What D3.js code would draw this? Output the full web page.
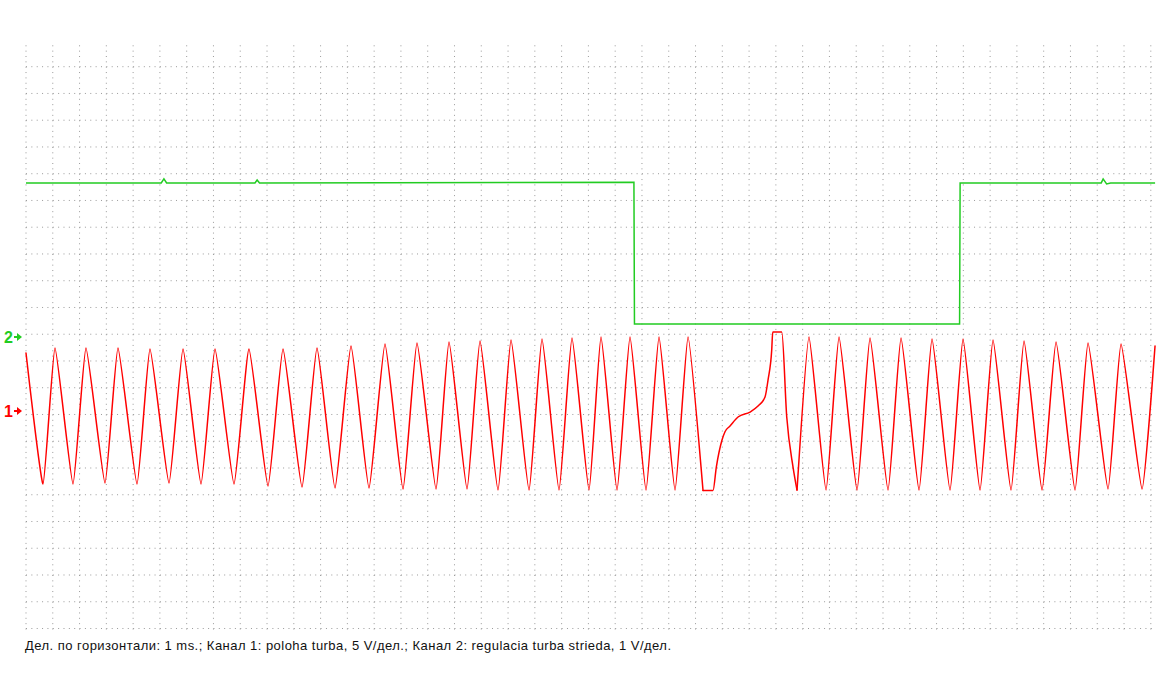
<!DOCTYPE html>
<html>
<head>
<meta charset="utf-8">
<script src="https://cdn.jsdelivr.net/npm/d3@7"></script>
<style>
  html, body { margin: 0; padding: 0; background: #fff; }
  svg { display: block; }
</style>
</head>
<body>
<svg id="chart" width="1156" height="700"></svg>
<script>
// ---- Data (time in ms, 1 ms/div; channel 1 in volts 5 V/div; channel 2 in volts 1 V/div)
const timeDivisions = d3.range(0, 43);          // vertical grid lines, ms
const voltRows = d3.range(0, 22);               // horizontal grid rows (division index)

// Channel 1: "poloha turba" (red), [ms, V]
const ch1Time = [0, 0.635, 1.083, 1.755, 2.240, 2.950, 3.435, 4.145, 4.630, 5.340, 5.863, 6.535, 7.058, 7.767, 8.327,
  9.037, 9.597, 10.306, 10.866, 11.538, 12.136, 12.808, 13.405, 14.078, 14.600, 15.310, 15.795, 16.468, 16.953,
  17.625, 18.111, 18.783, 19.268, 19.903, 20.388, 21.023, 21.471, 22.069, 22.554, 23.152, 23.637, 24.235, 24.720,
  25.280, 25.653, 25.777, 25.989, 26.101, 26.288, 26.587, 27.035, 27.334, 27.595, 27.707, 27.845, 27.883, 28.219,
  28.406, 28.641, 28.790,
  29.238, 29.873, 30.359, 31.031, 31.516, 32.188, 32.674, 33.346, 33.831, 34.503, 34.989, 35.624, 36.109, 36.781,
  37.267, 37.939, 38.462, 39.171, 39.657, 40.403, 40.889, 41.673, 42.158];
const ch1Volt = [10.84, -13.64, 11.78, -13.64, 11.78, -13.46, 11.78, -13.64, 11.59, -13.46, 11.59, -13.64, 11.59, -13.64, 11.59,
  -14.02, 11.59, -14.21, 11.78, -14.39, 12.15, -14.39, 12.52, -14.58, 12.71, -14.58, 12.90, -14.58, 13.08,
  -14.77, 13.27, -14.77, 13.46, -14.77, 13.64, -14.77, 13.83, -14.77, 13.83, -14.77, 13.83, -14.77, 13.83,
  -14.86, -14.86, -10.47, -5.42, -3.87, -2.80, -1.12, -0.19, 0.93, 2.62, 5.79, 11.40, 14.77, 14.77,
  -1.12, -10.47, -14.77,
  13.83, -14.77, 13.83, -14.77, 13.64, -14.77, 13.64, -14.77, 13.46, -14.77, 13.46, -14.77, 13.27, -14.77,
  13.08, -14.77, 12.90, -14.77, 12.71, -14.58, 12.52, -14.58, 12.15];
// the irregular (clipped) stretch of channel 1, drawn with a non-overshooting curve
const ch1IrregularStart = 25.280, ch1IrregularEnd = 28.790;

// Channel 2: "regulacia turba strieda" (green), [ms, V]
const ch2Time = [0, 5.05, 5.15, 5.25, 8.55, 8.63, 8.72, 22.70, 22.72, 34.86, 34.88, 40.15, 40.22, 40.35, 40.50, 42.16];
const ch2Volt = [5.76, 5.76, 5.91, 5.76, 5.76, 5.87, 5.76, 5.78, 0.49, 0.49, 5.76, 5.76, 5.91, 5.72, 5.76, 5.76];

const caption = "Дел. по горизонтали: 1 ms.; Канал 1: poloha turba, 5 V/дел.; Канал 2: regulacia turba strieda, 1 V/дел.";

// ---- Scales
const svg = d3.select("#chart");
svg.append("rect").attr("width", 1156).attr("height", 700).attr("fill", "#fff");

const x = d3.scaleLinear().domain([0, 42]).range([26, 1150.8]);
const row = d3.scaleLinear().domain([0, 21]).range([66.7, 628.5]);
const divPx = row(1) - row(0);
const plotTop = row(0) - 4 * divPx / 5;
const plotRight = x(42.16);

const y1 = d3.scaleLinear().domain([0, 5]).range([411, 411 - divPx]);   // channel 1, 5 V/div
const y2 = d3.scaleLinear().domain([0, 1]).range([337, 337 - divPx]);   // channel 2, 1 V/div

// ---- Grid
const grid = svg.append("g").attr("stroke", "#9a9a9a").attr("stroke-width", 1);
grid.selectAll("line.v").data(timeDivisions).join("line")
  .attr("x1", d => x(d)).attr("x2", d => x(d))
  .attr("y1", plotTop).attr("y2", row(21) + 1)
  .attr("stroke-dasharray", `1 ${divPx / 5 - 1}`);
grid.selectAll("line.h").data(voltRows).join("line")
  .attr("y1", d => row(d)).attr("y2", d => row(d))
  .attr("x1", x(0)).attr("x2", plotRight)
  .attr("stroke-dasharray", `1 ${(x(1) - x(0)) / 5 - 1}`);

// ---- Traces
const ch1 = ch1Time.map((t, i) => [t, ch1Volt[i]]);
const ch2 = ch2Time.map((t, i) => [t, ch2Volt[i]]);

svg.append("path").datum(ch2)
  .attr("fill", "none").attr("stroke", "#22cc22").attr("stroke-width", 1.5)
  .attr("d", d3.line().x(d => x(d[0])).y(d => y2(d[1])));

const segA = ch1.filter(d => d[0] <= ch1IrregularStart);
const segB = ch1.filter(d => d[0] >= ch1IrregularStart && d[0] <= ch1IrregularEnd);
const segC = ch1.filter(d => d[0] >= ch1IrregularEnd);
const smooth = d3.line().curve(d3.curveCardinal.tension(0.55)).x(d => x(d[0])).y(d => y1(d[1]));
const mono = d3.line().curve(d3.curveMonotoneX).x(d => x(d[0])).y(d => y1(d[1]));

const red = svg.append("g").attr("fill", "none").attr("stroke", "#ff0000")
  .attr("stroke-width", 1.5).attr("stroke-linejoin", "round").attr("stroke-linecap", "round");
red.append("path").datum(segA).attr("d", smooth);
red.append("path").datum(segB).attr("d", mono);
red.append("path").datum(segC).attr("d", smooth);

// ---- Channel markers
function marker(label, yPos, color) {
  const g = svg.append("g").attr("fill", color);
  g.append("text").attr("x", 4).attr("y", yPos + 6)
    .attr("font-family", "Liberation Sans, Arial, sans-serif")
    .attr("font-weight", "bold").attr("font-size", 16).text(label);
  g.append("rect").attr("x", 14).attr("y", yPos - 1).attr("width", 4).attr("height", 2);
  g.append("path").attr("d", `M17,${yPos - 4}L22,${yPos}L17,${yPos + 4}Z`);
}
marker("2", y2(0), "#22cc22");
marker("1", y1(0), "#ff0000");

// ---- Caption
svg.append("text").attr("x", 25).attr("y", 650)
  .attr("font-family", "Liberation Sans, Arial, sans-serif")
  .attr("font-size", 13).attr("fill", "#111")
  .attr("textLength", 646).attr("lengthAdjust", "spacing")
  .text(caption);
</script>
</body>
</html>
